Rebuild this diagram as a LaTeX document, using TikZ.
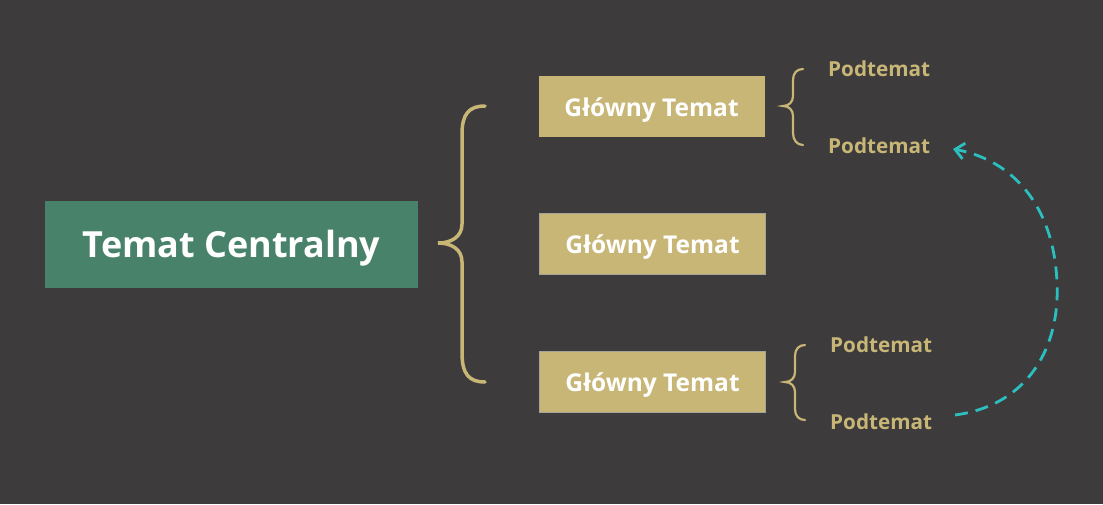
\documentclass[tikz,border=0pt]{standalone}
\usepackage{fontspec}
\setmainfont{Open Sans}
\usetikzlibrary{arrows.meta}
\definecolor{bg}{HTML}{3D3B3C}
\definecolor{central}{HTML}{48826A}
\definecolor{gold}{HTML}{C8B677}
\definecolor{teal}{HTML}{2BBFBF}
\definecolor{edge}{HTML}{A8A39A}
\newcommand\lowertext[1]{\raisebox{-4pt}[\height][\depth]{#1}}
\tikzset{
  mainbox/.style={fill=gold, inner sep=0pt, minimum width=226pt, minimum height=61pt, text=white, font=\fontsize{24.5}{28}\selectfont\bfseries},
  subtext/.style={text=gold, inner sep=0pt, anchor=west, font=\fontsize{20.7}{24}\selectfont\bfseries},
  bracebig/.style={draw=gold, line width=3.5pt, line cap=round},
  bracesmall/.style={draw=gold, line width=2.2pt, line cap=round},
  link/.style={draw=teal, line width=2.8pt, dash pattern=on 13pt off 8pt, -{Straight Barb[length=9pt,width=16pt,line width=2.8pt]}}
}
\begin{document}
\begin{tikzpicture}[x=1pt,y=-1pt]
\fill[bg] (0,0) rectangle (1103,504);
\useasboundingbox (0,0) rectangle (1103,504);
\node[fill=central, inner sep=0pt, minimum width=373pt, minimum height=87pt, text=white, font=\fontsize{36}{40}\selectfont\bfseries] (c) at (231.5,244.5) {\lowertext{Temat Centralny}};
\node[mainbox] (m1) at (651.5,106) {\lowertext{Główny Temat}};
\node[mainbox, draw=edge, line width=1pt] (m2) at (652.5,243.5) {\lowertext{Główny Temat}};
\node[mainbox, draw=edge, line width=1pt] (m3) at (652.5,381.5) {\lowertext{Główny Temat}};
\node[subtext] (p1) at (828,68.5) {Podtemat};
\node[subtext] (p2) at (828,145.5) {Podtemat};
\node[subtext] (p3) at (830,344.5) {Podtemat};
\node[subtext] (p4) at (830,421.5) {Podtemat};
\coordinate (a1) at (955,415);
\coordinate (a2) at (953,149);
% big brace
\draw[bracebig] (485,106) .. controls (469,106) and (462,114) .. (462,134) -- (462,224)
  .. controls (462,237) and (451,243) .. (438,243)
  .. controls (451,243) and (462,249) .. (462,262) -- (462,353)
  .. controls (462,374) and (469,382) .. (485,382);
% small braces
\draw[bracesmall] (803,69) .. controls (797,69) and (793,73) .. (793,80) -- (793,96)
  .. controls (793,102) and (789,106) .. (783,106)
  .. controls (789,106) and (793,110) .. (793,116) -- (793,133)
  .. controls (793,140) and (797,145) .. (803,145);
\draw[bracesmall] (805,345) .. controls (799,345) and (795,349) .. (795,356) -- (795,372)
  .. controls (795,378) and (791,382) .. (785,382)
  .. controls (791,382) and (795,386) .. (795,392) -- (795,409)
  .. controls (795,416) and (799,420) .. (805,420);
% dashed link
\draw[link] (a1) .. controls (1030,405) and (1060,345) .. (1057,283)
  .. controls (1054,205) and (1012,160) .. (a2);
\end{tikzpicture}
\end{document}
